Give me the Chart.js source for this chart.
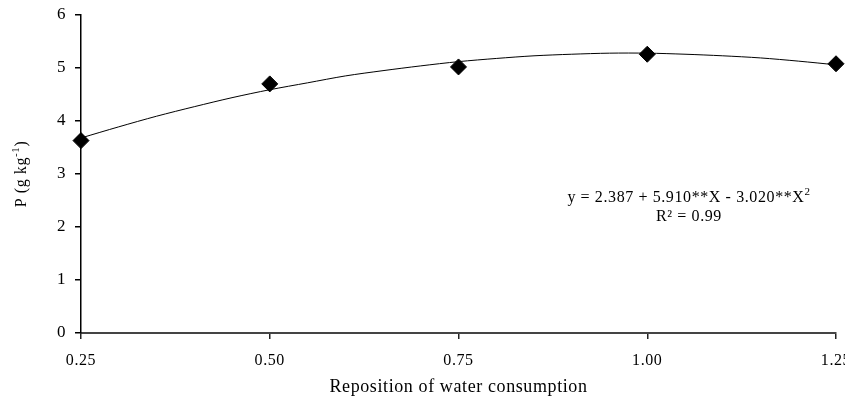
<!DOCTYPE html>
<html>
<head>
<meta charset="utf-8">
<script src="https://cdn.jsdelivr.net/npm/chart.js@4"></script>
<style>
  body { margin: 0; background: #fff; }
  #wrap { width: 845px; height: 398px; }
</style>
</head>
<body>
<div id="wrap"><canvas id="chart" width="845" height="398"></canvas></div>
<script>
// observed points
const doses = [0.25, 0.50, 0.75, 1.00, 1.25];
const pValues = [3.63, 4.70, 5.02, 5.26, 5.08];

// fitted curve
const curveX = [0.25, 0.30, 0.35, 0.40, 0.45, 0.50, 0.55, 0.60, 0.65, 0.70, 0.75,
                0.80, 0.85, 0.90, 0.95, 1.00, 1.05, 1.10, 1.15, 1.20, 1.25];
const curveY = [3.68, 3.89, 4.09, 4.27, 4.44, 4.59, 4.72, 4.85, 4.95, 5.04, 5.12,
                5.18, 5.23, 5.26, 5.28, 5.28, 5.26, 5.23, 5.19, 5.13, 5.06];

const xTicks = [0.25, 0.50, 0.75, 1.00, 1.25];
const yTicks = [0, 1, 2, 3, 4, 5, 6];

const eqText = 'y = 2.387 + 5.910**X - 3.020**X';
const r2Text = 'R² = 0.99';
const yTitle = 'P (g kg';
const xTitle = 'Reposition of water consumption';

const serif = '"Liberation Serif", "Times New Roman", serif';

// a bit of tracking, the original text is spaced wider
const spacingPlugin = {
  id: 'spacing',
  beforeDraw(chart) { chart.ctx.letterSpacing = '0.6px'; }
};

// draws the y title (with superscript) and the equation
const textPlugin = {
  id: 'extraText',
  afterDraw(chart) {
    const ctx = chart.ctx;
    ctx.save();
    ctx.letterSpacing = '0.6px';
    ctx.fillStyle = '#000';

    // y axis title, rotated
    ctx.translate(22, 174);
    ctx.rotate(-Math.PI / 2);
    ctx.font = '16px ' + serif;
    ctx.textBaseline = 'middle';
    const w1 = ctx.measureText(yTitle).width;
    ctx.font = '11px ' + serif;
    const wSup = ctx.measureText('-1').width;
    ctx.font = '16px ' + serif;
    const w2 = ctx.measureText(')').width;
    let x0 = -(w1 + wSup + w2) / 2;
    ctx.textAlign = 'left';
    ctx.fillText(yTitle, x0, 0);
    ctx.font = '11px ' + serif;
    ctx.fillText('-1', x0 + w1, -6);
    ctx.font = '16px ' + serif;
    ctx.fillText(')', x0 + w1 + wSup, 0);
    ctx.restore();

    // regression equation
    ctx.save();
    ctx.letterSpacing = '0.6px';
    ctx.fillStyle = '#000';
    ctx.textBaseline = 'middle';
    ctx.font = '16px ' + serif;
    const we = ctx.measureText(eqText).width;
    ctx.font = '11px ' + serif;
    const w2s = ctx.measureText('2').width;
    const ex = 689 - (we + w2s) / 2;
    ctx.font = '16px ' + serif;
    ctx.textAlign = 'left';
    ctx.fillText(eqText, ex, 198);
    ctx.font = '11px ' + serif;
    ctx.fillText('2', ex + we, 192);
    ctx.font = '16px ' + serif;
    ctx.textAlign = 'center';
    ctx.fillText(r2Text, 689, 217);
    ctx.restore();
  }
};

new Chart(document.getElementById('chart'), {
  type: 'scatter',
  data: {
    datasets: [
      {
        label: 'P',
        data: doses.map((d, i) => ({ x: d, y: pValues[i] })),
        pointStyle: 'rectRot',
        pointRadius: 8,
        pointBackgroundColor: '#000',
        pointBorderColor: '#000',
        showLine: false,
        clip: false,
        order: 0
      },
      {
        label: 'fit',
        data: curveX.map((d, i) => ({ x: d, y: curveY[i] })),
        showLine: true,
        borderColor: '#000',
        borderWidth: 1,
        pointRadius: 0,
        tension: 0.3,
        clip: false,
        order: 1
      }
    ]
  },
  options: {
    responsive: false,
    animation: false,
    layout: { padding: { left: 0, right: 7, top: 15, bottom: 0 } },
    plugins: {
      legend: { display: false },
      tooltip: { enabled: false }
    },
    scales: {
      x: {
        type: 'linear',
        min: 0.25,
        max: 1.25,
        afterBuildTicks: (s) => { s.ticks = xTicks.map(v => ({ value: v })); },
        afterFit: (s) => { s.height = 65; s.paddingRight = 0; s.paddingLeft = 0; },
        ticks: {
          color: '#000',
          font: { family: serif, size: 16 },
          padding: 12,
          maxRotation: 0,
          callback: (v) => Number(v).toFixed(2)
        },
        grid: { drawOnChartArea: false, drawTicks: true, tickLength: 6, color: '#222', lineWidth: 1.5 },
        border: { display: true, color: '#444', width: 2 },
        title: {
          display: true,
          text: xTitle,
          color: '#000',
          font: { family: serif, size: 18 },
          padding: { top: 0, bottom: 0 }
        }
      },
      y: {
        min: 0,
        max: 6,
        afterBuildTicks: (s) => { s.ticks = yTicks.map(v => ({ value: v })); },
        afterFit: (s) => { s.width = 81; s.paddingTop = 0; },
        ticks: {
          color: '#000',
          font: { family: serif, size: 17 },
          padding: 9
        },
        grid: { drawOnChartArea: false, drawTicks: true, tickLength: 6, color: '#000', lineWidth: 1.5 },
        border: { display: true, color: '#000', width: 1.5 }
      }
    }
  },
  plugins: [spacingPlugin, textPlugin]
});
</script>
</body>
</html>
